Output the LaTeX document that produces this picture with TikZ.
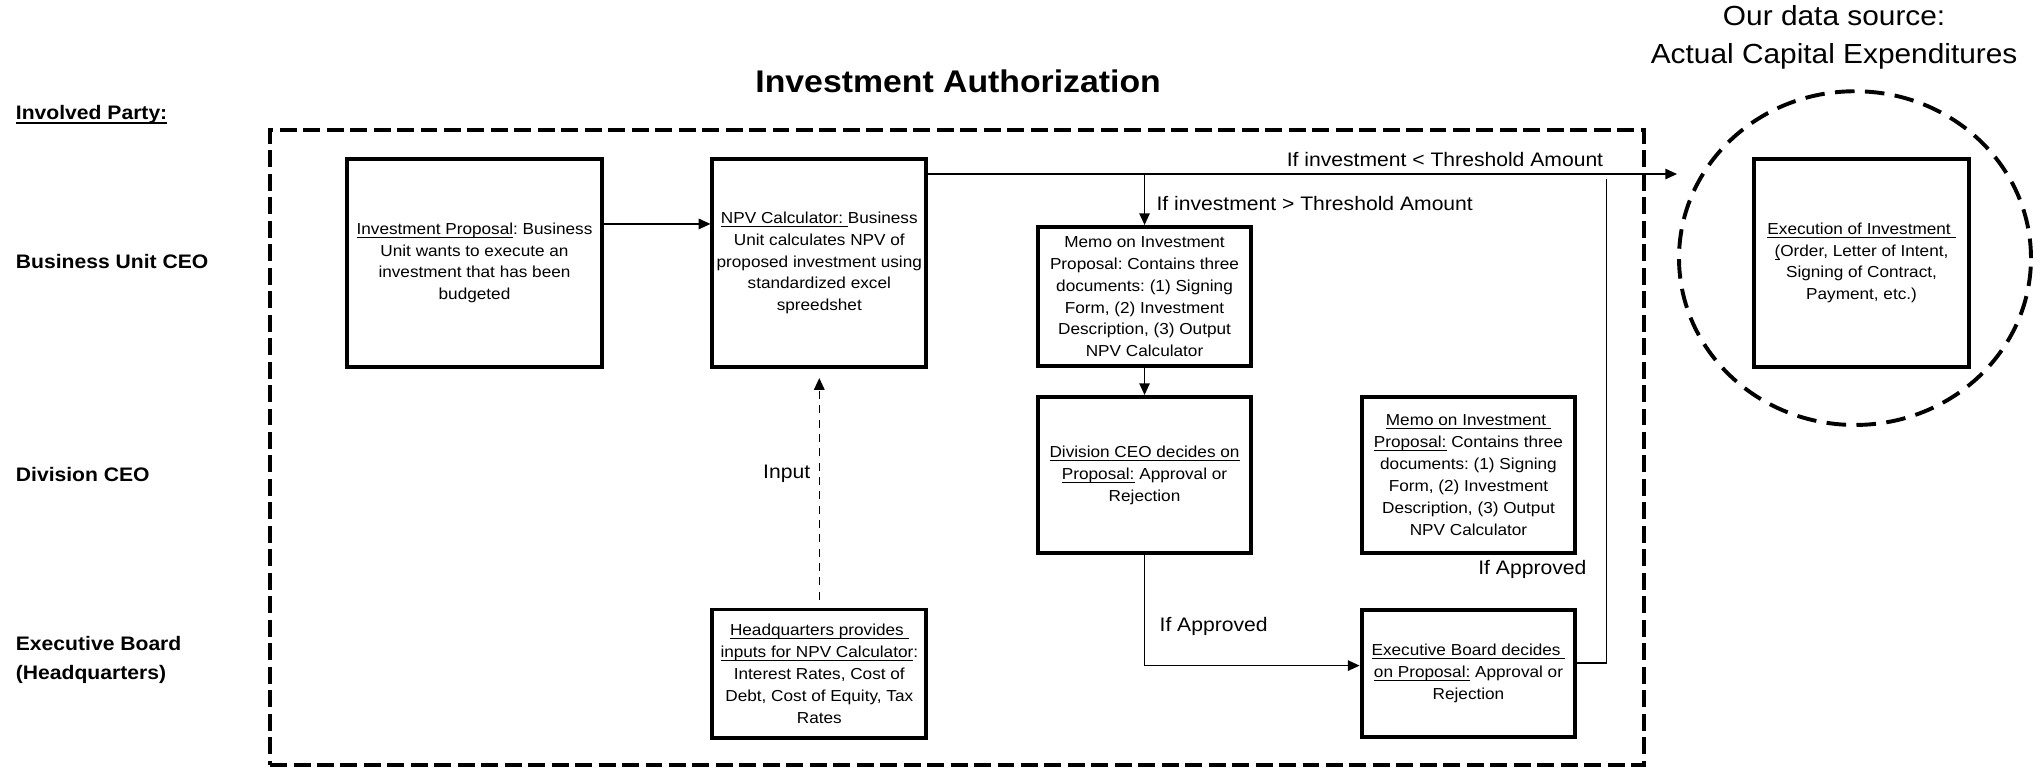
\documentclass[tikz,border=0pt]{standalone}
\usepackage{fontspec}
\setmainfont{Liberation Sans}[FakeStretch=1.08]
\usetikzlibrary{arrows.meta,shapes.geometric,calc}
\frenchspacing
\newsavebox\ulbox
\newcommand\ulx[1]{\sbox\ulbox{#1}\rlap{\rule[-2.7pt]{\wd\ulbox}{0.85pt}}\usebox\ulbox}
\newcommand\ulxb[1]{\sbox\ulbox{#1}\rlap{\rule[-3.2pt]{\wd\ulbox}{1.3pt}}\usebox\ulbox}
\begin{document}
\begin{tikzpicture}[x=1pt,y=-1pt,
  box/.style={draw,line width=3pt,inner sep=0pt,align=center,font=\fontsize{12.2}{16.8}\selectfont\frenchspacing},
  party/.style={anchor=west,align=left,font=\fontsize{15}{22}\selectfont\bfseries,inner sep=0pt},
  lbl/.style={font=\fontsize{15}{18}\selectfont,inner sep=0pt},
  conn/.style={line width=1.15pt},
  arr/.style={conn,-{Triangle[length=9pt,width=8pt]}},
]
\useasboundingbox (0,0) rectangle (1568,591);

% frame and source circle
\node[draw,line width=2.8pt,dash pattern=on 13pt off 5pt,minimum width=1053.8pt,minimum height=486.8pt,inner sep=0pt] (frame) at (734.1,343.2) {};
\node[draw,ellipse,line width=3pt,dash pattern=on 15pt off 8pt,minimum width=270pt,minimum height=256pt,inner sep=0pt] (src) at (1423,198) {};

% titles and party labels
\node[font=\fontsize{24}{28}\selectfont\bfseries] (title) at (735,62) {Investment Authorization};
\node[align=center,font=\fontsize{21.2}{29}\selectfont] (ds) at (1407,28.5) {Our data source:\\Actual Capital Expenditures};
\node[party] (ip) at (12,88.2) {\ulxb{Involved Party:}};
\node[party] (bu) at (12,200.7) {Business Unit CEO};
\node[party] (dc) at (12,363.9) {Division CEO};
\node[party] (eb) at (12,506.3) {Executive Board\\(Headquarters)};

% boxes
\node[box,minimum width=195pt,minimum height=159pt] (prop) at (364,201.7)
  {\ulx{Investment Proposal}: Business\\Unit wants to execute an\\investment that has been\\budgeted};
\node[box,minimum width=164pt,minimum height=159pt] (npv) at (628.5,201.7)
  {\ulx{NPV Calculator:\ }Business\\Unit calculates NPV of\\proposed investment using\\standardized excel\\spreedshet};
\node[box,minimum width=163pt,minimum height=107pt] (memo) at (878,227.6)
  {Memo on Investment\\Proposal: Contains three\\documents: (1) Signing\\Form, (2) Investment\\Description, (3) Output\\NPV Calculator};
\node[box,minimum width=163pt,minimum height=120pt] (div) at (878,364.5)
  {\ulx{Division CEO decides on}\\\ulx{Proposal:} Approval or\\Rejection};
\node[box,minimum width=164pt,minimum height=120pt] (memob) at (1126.5,364.5)
  {\ulx{Memo on Investment\ }\\\ulx{Proposal:} Contains three\\documents: (1) Signing\\Form, (2) Investment\\Description, (3) Output\\NPV Calculator};
\node[box,minimum width=164pt,minimum height=97.5pt] (exec) at (1126.5,516.8)
  {\ulx{Executive Board decides\ }\\\ulx{on Proposal:} Approval or\\Rejection};
\node[box,minimum width=164pt,minimum height=98.5pt] (hq) at (628.5,516.8)
  {\ulx{Headquarters provides\ }\\\ulx{inputs for NPV Calculator}:\\Interest Rates, Cost of\\Debt, Cost of Equity, Tax\\Rates};
\node[box,minimum width=165pt,minimum height=160pt] (inv) at (1428,201.7)
  {\ulx{Execution of Investment\ }\\\ulx{(}Order, Letter of Intent,\\Signing of Contract,\\Payment, etc.)};

% connector labels
\node[lbl,anchor=east] (lt) at (1230,122.7) {If investment < Threshold Amount};
\node[lbl,anchor=west] (gt) at (887,156.5) {If investment > Threshold Amount};
\node[lbl] (inp) at (603.5,363.7) {Input};
\node[lbl] (ap1) at (931,480.7) {If Approved};
\node[lbl] (ap2) at (1175.5,436.6) {If Approved};

% helper coordinates
\coordinate (yTop) at (0,133.5);
\coordinate (yIn) at (0,171.8);
\coordinate (yDiv) at (0,510.6);
\coordinate (yEx) at (0,508.7);
\coordinate (rt) at (1232.3,137);
\coordinate (dashTop) at (0,290);
\coordinate (dashBot) at (0,460);

% connectors
\draw[arr] (prop.east |- yIn) -- (npv.west |- yIn);
\draw[arr] (npv.east |- yTop) -- (src.west |- yTop);
\draw[arr] (memo.north |- yTop) -- (memo.north);
\draw[arr] (memo.south) -- (div.north);
\draw[arr] (div.south) -- (div.south |- yDiv) -- (exec.west |- yDiv);
\draw[conn] (exec.east |- yEx) -- (rt |- yEx) -- (rt);
\draw[arr,dash pattern=on 6pt off 5pt] (hq.north |- dashBot) -- (npv.south |- dashTop);
\end{tikzpicture}
\end{document}
